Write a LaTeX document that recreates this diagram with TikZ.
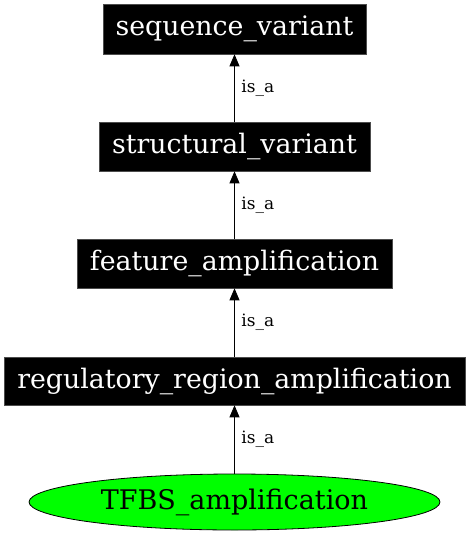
\documentclass[tikz,border=0pt]{standalone}
\usepackage{fontspec}
\setmainfont{DejaVu Serif}
\usetikzlibrary{arrows.meta,shapes.geometric}
\begin{document}
\begin{tikzpicture}[x=1pt,y=-1pt,
  termbox/.style={rectangle, fill=black, draw=black!70, line width=0.6pt, text=white, inner sep=0pt,
    font=\fontsize{26.8}{30}\selectfont},
  leafnode/.style={ellipse, fill=green, draw=black, line width=0.8pt, inner sep=0pt,
    font=\fontsize{27}{30}\selectfont},
  arr/.style={draw=black, line width=0.9pt, -{Triangle[length=12pt,width=10pt]}},
  lbl/.style={anchor=west, inner sep=0pt, xshift=6.5pt, font=\fontsize{17}{19}\selectfont}]
\useasboundingbox (0,0) rectangle (469,536);
\node[termbox, minimum width=263pt, minimum height=50pt] (sv) at (234.5,29) {sequence\_variant};
\node[termbox, minimum width=271pt, minimum height=49pt] (stv) at (234.5,146.5) {structural\_variant};
\node[termbox, minimum width=315pt, minimum height=49pt] (fa) at (234.5,263.5) {feature\_amplification};
\node[termbox, minimum width=461pt, minimum height=48pt] (rra) at (234.5,381) {regulatory\_region\_amplification};
\node[leafnode, minimum width=411pt, minimum height=56pt] (tfbs) at (234.5,502) {TFBS\_amplification};
\draw[arr] (stv.north) -- node[lbl] {is\_a} (sv.south);
\draw[arr] (fa.north) -- node[lbl] {is\_a} (stv.south);
\draw[arr] (rra.north) -- node[lbl] {is\_a} (fa.south);
\draw[arr] (tfbs.north) -- node[lbl] {is\_a} (rra.south);
\end{tikzpicture}
\end{document}
